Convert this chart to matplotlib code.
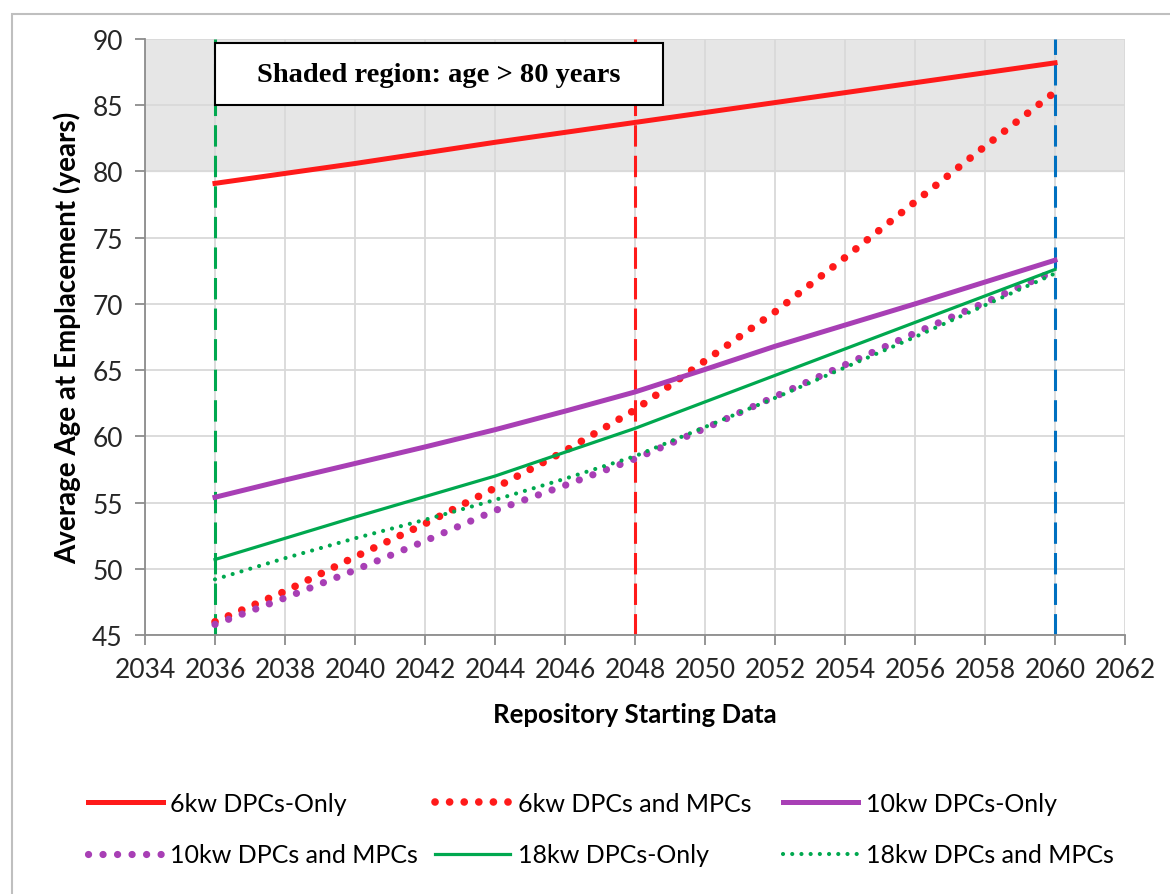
import matplotlib
matplotlib.use("Agg")
import matplotlib.pyplot as plt
from matplotlib.patches import Rectangle

# values (age in years vs repository start year)
years = [2036, 2038, 2040, 2042, 2044, 2046, 2048, 2050, 2052, 2054, 2056, 2058, 2060]
dpc6_only = [79.1, 79.85, 80.6, 81.4, 82.2, 82.95, 83.7, 84.45, 85.2, 85.95, 86.7, 87.45, 88.2]
dpc6_mpc = [46.0, 48.3, 50.9, 53.4, 56.1, 58.9, 62.0, 65.7, 69.4, 73.5, 77.7, 81.9, 86.0]
dpc10_only = [55.4, 56.7, 57.95, 59.2, 60.5, 61.9, 63.35, 65.05, 66.8, 68.4, 70.0, 71.65, 73.3]
dpc10_mpc = [45.8, 47.8, 49.9, 52.1, 54.4, 56.3, 58.3, 60.6, 63.0, 65.4, 67.8, 70.1, 72.5]
dpc18_only = [50.7, 52.3, 53.9, 55.45, 57.0, 58.8, 60.6, 62.6, 64.6, 66.6, 68.6, 70.6, 72.6]
dpc18_mpc = [49.2, 50.8, 52.3, 53.7, 55.2, 56.8, 58.5, 60.7, 62.9, 65.2, 67.5, 69.9, 72.3]

# vertical markers and shaded limit
marker_years = [2036, 2048, 2060]
age_limit = 80

RED = '#FF1A1A'
PURPLE = '#A83FB5'
GREEN = '#00A84F'
BLUE = '#0070C0'

plt.rcParams['font.family'] = ['Lato', 'DejaVu Sans']

fig = plt.figure(figsize=(11.7, 8.95), dpi=100)
ax = fig.add_axes([145 / 1170, 1 - 636 / 895, 980 / 1170, 596 / 895])

# shaded region above 80 years
ax.axhspan(age_limit, 90, color='#E6E6E6', zorder=0)

# vertical dashed reference lines
for yr, c in zip(marker_years, [GREEN, RED, BLUE]):
    ax.axvline(yr, color=c, lw=2.2, ls=(0, (7, 3)), zorder=2)

dot = dict(dash_capstyle='round', solid_capstyle='round')
ax.plot(years, dpc6_only, color=RED, lw=3.6, label='6kw DPCs-Only', zorder=3)
ax.plot(years, dpc6_mpc, color=RED, lw=5.5, ls=(0, (0.01, 1.9)), label='6kw DPCs and MPCs', zorder=3, **dot)
ax.plot(years, dpc10_only, color=PURPLE, lw=3.6, label='10kw DPCs-Only', zorder=3)
ax.plot(years, dpc10_mpc, color=PURPLE, lw=5.2, ls=(0, (0.01, 2.0)), label='10kw DPCs and MPCs', zorder=3, **dot)
ax.plot(years, dpc18_only, color=GREEN, lw=2.3, label='18kw DPCs-Only', zorder=3)
ax.plot(years, dpc18_mpc, color=GREEN, lw=3.0, ls=(0, (0.01, 2.2)), label='18kw DPCs and MPCs', zorder=4, **dot)

ax.set_xlim(2034, 2062)
ax.set_ylim(45, 90)
ax.set_xticks(range(2034, 2063, 2))
ax.set_yticks(range(45, 91, 5))
ax.grid(True, color='#D9D9D9', lw=1.3)
ax.set_axisbelow(True)
for s in ['top', 'right']:
    ax.spines[s].set_visible(False)
for s in ['left', 'bottom']:
    ax.spines[s].set_color('#8C8C8C')
    ax.spines[s].set_linewidth(1.3)
ax.tick_params(axis='both', colors='#8C8C8C', length=7, width=1.3, labelsize=19,
               labelcolor='#262626')
ax.tick_params(axis='x', pad=9)
ax.tick_params(axis='y', pad=9)

ax.set_xlabel('Repository Starting Data', fontsize=18.5, fontweight='bold', labelpad=14)
ax.set_ylabel('Average Age at Emplacement (years)', fontsize=20, fontweight='bold', labelpad=8)

# annotation box
ax.add_patch(Rectangle((2036, 85.0), 12.8, 4.7, facecolor='white', edgecolor='black',
                       lw=1.5, zorder=5))
ax.text(2042.4, 87.35, 'Shaded region: age > 80 years', ha='center', va='center',
        fontsize=20.5, fontweight='bold', family='Liberation Serif', zorder=6)

# legend: one block per column so the columns sit at fixed positions
h, l = ax.get_legend_handles_labels()
col_x = [88, 435, 783]
for j, x in enumerate(col_x):
    idx = [j, j + 3]
    fig.legend([h[i] for i in idx], [l[i] for i in idx], frameon=False,
               loc='center left', bbox_to_anchor=(x / 1170, 1 - 830 / 895),
               borderpad=0, borderaxespad=0, fontsize=18, handlelength=3.0,
               handletextpad=0.3, labelspacing=1.15)

# outer chart border
fig.add_artist(Rectangle((12 / 1170, -0.01), 1.2, 1 - 15 / 895 + 0.01, transform=fig.transFigure,
                         fill=False, edgecolor='#BFBFBF', lw=1.5))

fig.savefig('out.png', dpi=100)
